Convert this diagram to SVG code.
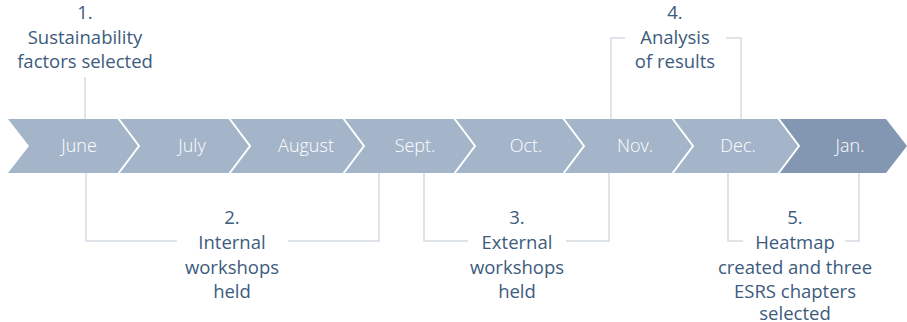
<svg xmlns="http://www.w3.org/2000/svg" width="907" height="322" viewBox="0 0 907 322">
<style>
.chev{fill:#a4b5c9}
.chev.dark{fill:#8397b3}
.sep{fill:none;stroke:#ffffff;stroke-width:2}
.mon{font-family:"Open Sans","Liberation Sans",sans-serif;font-size:18px;font-weight:300;fill:#ffffff;text-anchor:middle}
.lbl{font-family:"Open Sans","Liberation Sans",sans-serif;font-size:18.5px;fill:#3d5b7d;text-anchor:middle}
.con{fill:none;stroke:#d3dbe3;stroke-width:1.5}
</style>
<rect width="907" height="322" fill="#ffffff"/>
<g id="timeline">
<g id="june"><polygon class="chev" points="8,119 118,119 139,146 118,173 8,173 29,146"/><text class="mon" x="79" y="152">June</text></g>
<g id="july"><polygon class="chev" points="118,119 229,119 250,146 229,173 118,173 139,146"/><text class="mon" x="192" y="152">July</text></g>
<g id="august"><polygon class="chev" points="229,119 343,119 364,146 343,173 229,173 250,146"/><text class="mon" x="306" y="152">August</text></g>
<g id="sept"><polygon class="chev" points="343,119 454,119 475,146 454,173 343,173 364,146"/><text class="mon" x="415" y="152">Sept.</text></g>
<g id="oct"><polygon class="chev" points="454,119 563,119 584,146 563,173 454,173 475,146"/><text class="mon" x="526" y="152">Oct.</text></g>
<g id="nov"><polygon class="chev" points="563,119 672,119 693,146 672,173 563,173 584,146"/><text class="mon" x="635" y="152">Nov.</text></g>
<g id="dec"><polygon class="chev" points="672,119 778,119 799,146 778,173 672,173 693,146"/><text class="mon" x="738" y="152">Dec.</text></g>
<g id="jan"><polygon class="chev dark" points="778,119 886,119 907,146 886,173 778,173 799,146"/><text class="mon" x="850" y="152">Jan.</text></g>
<g id="separators">
<polyline class="sep" points="118,118 139,146 118,174"/>
<polyline class="sep" points="229,118 250,146 229,174"/>
<polyline class="sep" points="343,118 364,146 343,174"/>
<polyline class="sep" points="454,118 475,146 454,174"/>
<polyline class="sep" points="563,118 584,146 563,174"/>
<polyline class="sep" points="672,118 693,146 672,174"/>
<polyline class="sep" points="778,118 799,146 778,174"/>
</g>
</g>
<g id="connectors">
<path class="con" d="M85,77 V119"/>
<path class="con" d="M625,38 H611 V119 M726,38 H741 V119"/>
<path class="con" d="M86,173 V241 H177 M288,241 H379 V173"/>
<path class="con" d="M424,173 V241 H468 M566,241 H609 V173"/>
<path class="con" d="M728,173 V241 H743 M845,241 H859 V173"/>
</g>
<g id="step1"><text class="lbl" x="85"><tspan x="85" y="19">1.</tspan><tspan x="85" y="44">Sustainability</tspan><tspan x="85" y="68">factors selected</tspan></text></g>
<g id="step4"><text class="lbl" x="675"><tspan x="675" y="19">4.</tspan><tspan x="675" y="44">Analysis</tspan><tspan x="675" y="68">of results</tspan></text></g>
<g id="step2"><text class="lbl" x="232"><tspan x="232" y="224">2.</tspan><tspan x="232" y="249">Internal</tspan><tspan x="232" y="274">workshops</tspan><tspan x="232" y="298">held</tspan></text></g>
<g id="step3"><text class="lbl" x="517"><tspan x="517" y="224">3.</tspan><tspan x="517" y="249">External</tspan><tspan x="517" y="274">workshops</tspan><tspan x="517" y="298">held</tspan></text></g>
<g id="step5"><text class="lbl" x="795"><tspan x="795" y="224">5.</tspan><tspan x="795" y="249">Heatmap</tspan><tspan x="795" y="274">created and three</tspan><tspan x="795" y="298">ESRS chapters</tspan><tspan x="795" y="320">selected</tspan></text></g>
</svg>
